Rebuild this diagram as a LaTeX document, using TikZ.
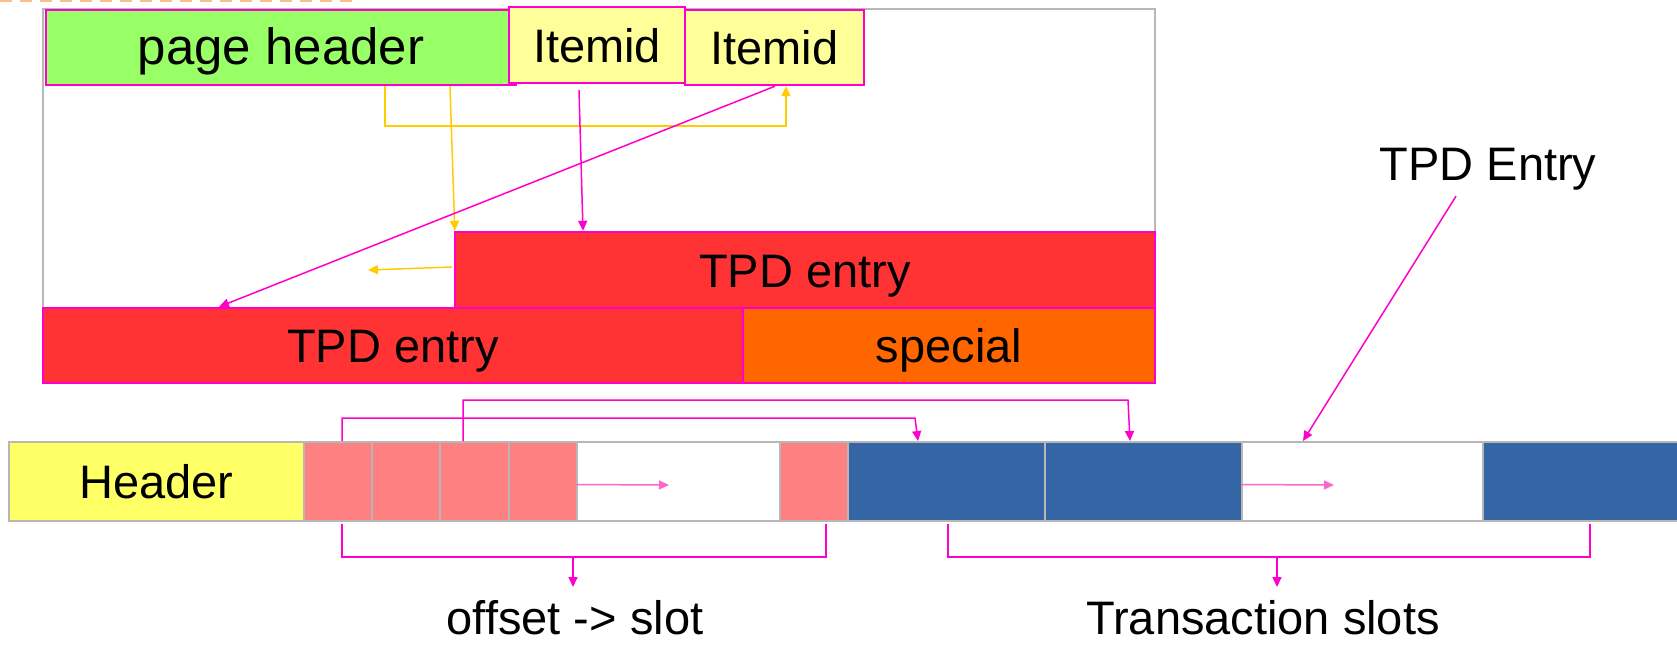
\documentclass[tikz,border=0pt]{standalone}
\usepackage{fontspec}
\setmainfont{Liberation Sans}
\usetikzlibrary{arrows.meta}
\definecolor{mag}{HTML}{FF00CC}
\definecolor{lmag}{HTML}{FF66CC}
\definecolor{ylw}{HTML}{FFCC00}
\definecolor{phgreen}{HTML}{99FF66}
\definecolor{itemy}{HTML}{FFFF99}
\definecolor{hdry}{HTML}{FFFF66}
\definecolor{tred}{HTML}{FF3333}
\definecolor{sorange}{HTML}{FF6600}
\definecolor{pinkc}{HTML}{FF8080}
\definecolor{bluec}{HTML}{3465A4}
\definecolor{grayb}{HTML}{B7B7B7}
\definecolor{peach}{HTML}{F8C08A}
\begin{document}
\begin{tikzpicture}[x=0.5pt,y=-0.5pt,
  every node/.style={font=\fontsize{23.5}{28}\selectfont},
  box/.style={draw=mag, line width=1.2pt, inner sep=0pt, text height=17pt, text depth=0pt},
  cell/.style={draw=grayb, line width=1pt, inner sep=0pt, minimum height=39.5pt, text height=17pt, text depth=0pt},
  tip/.style={-{Triangle[width=4.5pt,length=5pt]}},
  mline/.style={draw=mag, line width=0.75pt},
  yline/.style={draw=ylw, line width=0.75pt},
  lbl/.style={anchor=base, inner sep=0pt}]
\useasboundingbox (0,0) rectangle (1677,645);
\fill[white] (0,0) rectangle (1677,645);
\draw[peach, line width=1pt, dash pattern=on 6pt off 4pt] (0,1) -- (360,1);
% outer page frame
\draw[grayb, line width=0.75pt] (43,9) rectangle (1155,383);
% top boxes
\node[box, fill=tred, minimum width=350pt, minimum height=38pt] (tpd1) at (805,270) {TPD entry};
\node[box, fill=tred, minimum width=350pt, minimum height=37.5pt] (tpd2) at (393,345.5) {TPD entry};
\node[box, fill=sorange, minimum width=206pt, minimum height=37.5pt] (sp) at (949,345.5) {special};
\node[box, fill=phgreen, minimum width=235pt, minimum height=37.5pt, font=\fontsize{25.5}{30}\selectfont] (ph) at (281,47.5) {page header};
\node[box, fill=itemy, minimum width=88pt, minimum height=38pt] (it1) at (597,45) {Itemid};
\node[box, fill=itemy, minimum width=89.5pt, minimum height=37.5pt] (it2) at (774.5,47.5) {Itemid};
% top connectors
\draw[yline, tip] (385,0 |- ph.south) -- (385,126) -- (786,126) -- (786,0 |- it2.south);
\draw[yline, tip] (450,0 |- ph.south) -- ([xshift=0.5pt]tpd1.north west);
\coordinate (yfree) at (368,270);
\draw[yline, tip] ([yshift=1.5pt,xshift=-1pt]tpd1.west) -- (yfree);
\draw[mline, tip] ([xshift=-9pt,yshift=-3pt]it1.south) -- (583,0 |- tpd1.north);
\draw[mline, tip] (775,0 |- it2.south) -- (219,0 |- tpd2.north);
% bottom row
\node[cell, fill=hdry, minimum width=147.5pt] (hdr) at (156.5,481.5) {Header};
\node[cell, fill=pinkc, minimum width=34pt] (p1) at (338,481.5) {};
\node[cell, fill=pinkc, minimum width=34pt] (p2) at (406,481.5) {};
\node[cell, fill=pinkc, minimum width=34.5pt] (p3) at (474.5,481.5) {};
\node[cell, fill=pinkc, minimum width=34pt] (p4) at (543,481.5) {};
\node[cell, fill=white, minimum width=101.5pt] (w1) at (678.5,481.5) {};
\node[cell, fill=pinkc, minimum width=34pt] (p5) at (814,481.5) {};
\node[cell, fill=bluec, minimum width=98.5pt] (b1) at (946.5,481.5) {};
\node[cell, fill=bluec, minimum width=98.5pt] (b2) at (1143.5,481.5) {};
\node[cell, fill=white, minimum width=120.5pt] (w2) at (1362.5,481.5) {};
\node[cell, fill=bluec, minimum width=104pt] (b3) at (1587,481.5) {};
% arrows inside free space
\draw[lmag, line width=0.75pt, tip] ([yshift=-1.5pt]w1.west) -- (669,485);
\draw[lmag, line width=0.75pt, tip] ([yshift=-1.5pt]w2.west) -- (1334,485);
% offset -> slot links
\draw[mline, tip] (342,0 |- p1.north) -- (342,418) -- (915,418) -- (918,0 |- b1.north);
\draw[mline, tip] (463,0 |- p3.north) -- (463,400) -- (1128,400) -- (1130,0 |- b2.north);
% brackets
\draw[mline] ([yshift=-1pt]342,0 |- p1.south) -- (342,557) -- (826,557) -- ([yshift=-1pt]826,0 |- p5.south);
\draw[mline] ([yshift=-1pt]948,0 |- b1.south) -- (948,557) -- (1590,557) -- ([yshift=-1pt]1590,0 |- b3.south);
% labels
\node[lbl] (lab1) at (575,634) {offset -> slot};
\node[lbl] (lab2) at (1263,634) {Transaction slots};
\node[lbl] (lab3) at (1488,180) {TPD Entry};
\coordinate (a1) at (573,587);
\coordinate (a2) at (1277,587);
\draw[mline, tip] (573,557) -- (a1);
\draw[mline, tip] (1277,557) -- (a2);
\draw[mline, tip] ([xshift=-16pt,yshift=-3pt]lab3.south) -- (1303,0 |- w2.north);
\end{tikzpicture}
\end{document}
